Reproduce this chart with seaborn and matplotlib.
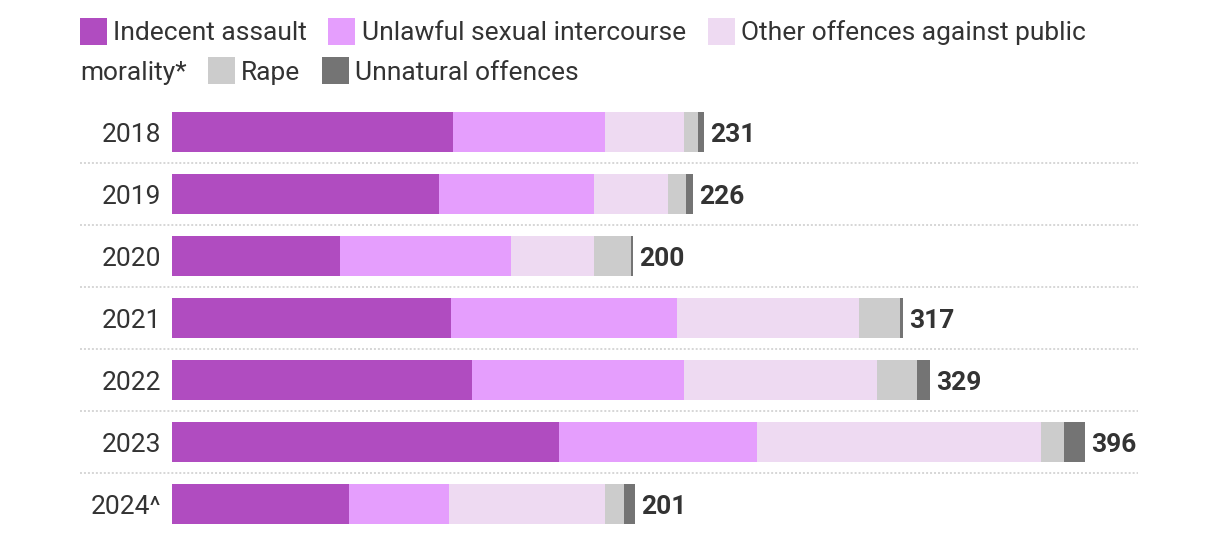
import matplotlib
matplotlib.use("Agg")
import matplotlib.pyplot as plt
import matplotlib.transforms as mtransforms
from matplotlib.patches import Rectangle
import numpy as np
import pandas as pd
import seaborn as sns

# ---- data ----
years = ["2018", "2019", "2020", "2021", "2022", "2023", "2024^"]
categories = ["Indecent assault", "Unlawful sexual intercourse",
              "Other offences against public morality*", "Rape", "Unnatural offences"]
indecent_assault = [122, 116, 73, 121, 130, 168, 77]
unlawful_sexual = [66, 67, 74, 98, 92, 86, 43]
other_offences = [34, 32, 36, 79, 84, 123, 68]
rape = [6, 8, 16, 18, 17, 10, 8]
unnatural = [3, 3, 1, 1, 6, 9, 5]
colors = ["#B04CC0", "#E59EFD", "#EEDAF2", "#CCCCCC", "#747474"]

series = [indecent_assault, unlawful_sexual, other_offences, rape, unnatural]
totals = [sum(v) for v in zip(*series)]

sns.set_theme(style="white")
plt.rcParams["font.family"] = ["Roboto", "DejaVu Sans"]

W, H = 1220, 536
fig = plt.figure(figsize=(W / 100, H / 100), dpi=100)
fig.patch.set_facecolor("white")

px_per_unit = 2.305
ax_left, ax_right = 172, 1138
ax_top, ax_bottom = 101, 535
ax = fig.add_axes([ax_left / W, 1 - ax_bottom / H, (ax_right - ax_left) / W, (ax_bottom - ax_top) / H])

cum = np.cumsum(np.array(series), axis=0)
df = pd.DataFrame({"year": years})
for k in range(len(series) - 1, -1, -1):
    df["v"] = cum[k]
    sns.barplot(data=df, x="v", y="year", orient="h", order=years, color=colors[k],
                saturation=1, width=40 / 62, edgecolor="none", linewidth=0, ax=ax)

ax.set_xlim(0, (ax_right - ax_left) / px_per_unit)
ax.set_ylim(len(years) - 0.5, -0.5)
ax.set_xlabel("")
ax.set_ylabel("")
ax.set_xticks([])
for s in ax.spines.values():
    s.set_visible(False)
ax.tick_params(axis="y", length=0, pad=7.5, labelsize=19, labelcolor="#333333")

# total labels
for i, t in enumerate(totals):
    ax.annotate(str(t), xy=(t, i), xytext=(4.3, 0), textcoords="offset points",
                va="center_baseline", ha="left", fontsize=19, fontweight="bold",
                color="#333333")

# dotted separators
trans = mtransforms.blended_transform_factory(fig.transFigure, ax.transData)
for i in range(len(years) - 1):
    ax.plot([80 / W, 1138 / W], [i + 0.5, i + 0.5], transform=trans, clip_on=False,
            color="#cccccc", linewidth=1.1, linestyle=(0, (1.3, 1.3)))

# legend (manual, wrapped like the reference)
def fx(px):
    return px / W

def fy(py):
    return 1 - py / H

sq = 27
leg_items = [
    # (square_x, text_x, baseline_y, square_top, color or None, text)
    (80, 113, 40, 18, colors[0], categories[0]),
    (328, 362, 40, 18, colors[1], categories[1]),
    (708, 741, 40, 18, colors[2], "Other offences against public"),
    (None, 80, 80, 57, None, "morality*"),
    (208, 241, 80, 57, colors[3], categories[3]),
    (322, 355, 80, 57, colors[4], categories[4]),
]
for sx, tx, by, st, c, txt in leg_items:
    if sx is not None:
        fig.patches.append(Rectangle((fx(sx), fy(st + sq)), sq / W, sq / H,
                                     transform=fig.transFigure, facecolor=c,
                                     edgecolor="none"))
    fig.text(fx(tx), fy(by), txt, ha="left", va="baseline", fontsize=19,
             color="#333333")

fig.savefig("out.png", dpi=100, facecolor="white")
